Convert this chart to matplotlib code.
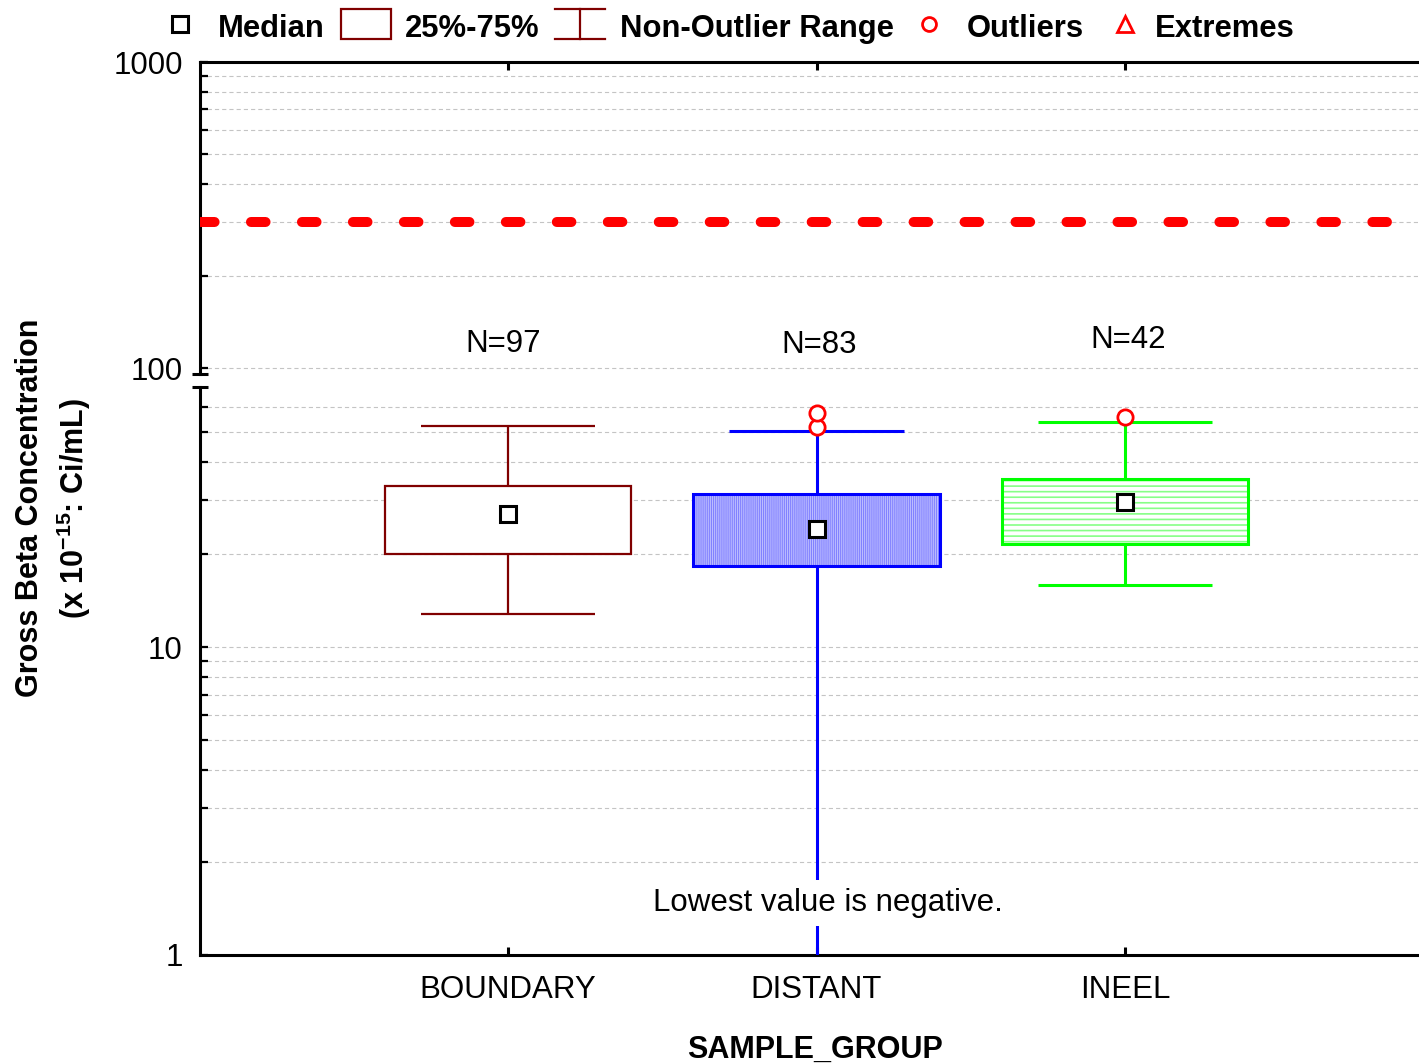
import matplotlib
matplotlib.use("Agg")
import matplotlib.pyplot as plt
from matplotlib import font_manager
from matplotlib.patches import Rectangle
from matplotlib.lines import Line2D
from matplotlib.ticker import FixedLocator, FixedFormatter, NullFormatter, LogLocator

# ---- data -------------------------------------------------------------
groups = ["BOUNDARY", "DISTANT", "INEEL"]
counts = [97, 83, 42]
q1 = [20.0, 18.3, 21.6]
median = [27.0, 24.2, 29.6]
q3 = [33.3, 31.4, 35.1]
whisker_low = [12.8, -1.0, 15.9]      # DISTANT minimum is below zero
whisker_high = [52.2, 50.3, 53.8]
outliers = [[], [51.8, 57.5], [55.8]]
limit_value = 300.0

upper_ticks = [100, 1000]
lower_ticks = [1, 10]

# ---- styles -----------------------------------------------------------
edge_colors = ["#800000", "#0000ff", "#00ff00"]
fill_colors = ["white", "#bcbcff", "white"]
hatch_colors = [None, "#8080ff", "#86ff86"]
hatches = [None, "|" * 8, "---"]
edge_widths = [1.6, 2.2, 2.2]

plt.rcParams["font.family"] = ["Liberation Sans", "DejaVu Sans"]
plt.rcParams["mathtext.default"] = "regular"
plt.rcParams["lines.scale_dashes"] = False

names = {f.name for f in font_manager.fontManager.ttflist}
if "Liberation Sans Narrow" in names:
    legend_font = dict(family=["Liberation Sans Narrow", "Liberation Sans"], fontsize=26.5)
else:
    legend_font = dict(family=["Liberation Sans", "DejaVu Sans"], fontsize=22.3)

label_size = 22.5

W, H = 1419, 1064
fig = plt.figure(figsize=(W / 100, H / 100), dpi=100)

left_px, axes_w_px = 199.5, 1234.0
ax_up = fig.add_axes([left_px / W, 1 - 374 / H, axes_w_px / W, (374 - 62) / H])
ax_lo = fig.add_axes([left_px / W, 1 - 955 / H, axes_w_px / W, (955 - 387) / H])

positions = list(range(1, len(groups) + 1))
grid_kw = dict(color="#c4c4c4", linewidth=0.8, linestyle=(0, (3.0, 2.2)))

for ax in (ax_up, ax_lo):
    ax.set_yscale("log")
    ax.set_xlim(0, 4)
    ax.set_axisbelow(True)
    ax.yaxis.set_minor_locator(LogLocator(base=10, subs=range(2, 10)))
    ax.yaxis.set_minor_formatter(NullFormatter())
    ax.grid(True, which="both", axis="y", **grid_kw)
    ax.spines["right"].set_visible(False)
    for s in ax.spines.values():
        s.set_linewidth(2.2)
    ax.tick_params(axis="y", which="both", direction="in", length=5.8, width=1.6,
                   labelsize=label_size, pad=12)
    ax.tick_params(axis="x", which="major", direction="in", length=6, width=2.2)
    ax.xaxis.set_major_locator(FixedLocator(positions))

ax_up.set_ylim(95.6, 1000)
ax_lo.set_ylim(1, 69.85)
ax_up.yaxis.set_major_locator(FixedLocator(upper_ticks))
ax_up.yaxis.set_major_formatter(FixedFormatter([str(v) for v in upper_ticks]))
ax_lo.yaxis.set_major_locator(FixedLocator(lower_ticks))
ax_lo.yaxis.set_major_formatter(FixedFormatter([str(v) for v in lower_ticks]))

ax_up.spines["bottom"].set_visible(False)
ax_lo.spines["top"].set_visible(False)
ax_up.tick_params(axis="x", bottom=False, top=True, labelbottom=False)
ax_lo.tick_params(axis="x", bottom=True, top=False, labelsize=label_size, pad=14.5)
ax_lo.set_xticklabels(groups)

# scale-break caps on the left spine
for ax, yb in ((ax_up, 0.0), (ax_lo, 1.0)):
    ax.plot([-0.006, 0.0065], [yb, yb], transform=ax.transAxes, color="black",
            lw=2.2, clip_on=False, solid_capstyle="butt")

# reference limit line
ax_up.axhline(limit_value, color="#ff0000", lw=7.2, linestyle=(0, (10.5, 26.2)),
              dash_capstyle="round", zorder=3)

# ---- boxes ------------------------------------------------------------
box_w, cap_w = 0.8, 0.565
ymin_lo = ax_lo.get_ylim()[0]
for i, x in enumerate(positions):
    ec, lw = edge_colors[i], edge_widths[i]
    if hatches[i]:
        fill = ax_lo.bar(x, q3[i] - q1[i], bottom=q1[i], width=box_w,
                         color=fill_colors[i], edgecolor=hatch_colors[i],
                         linewidth=0, hatch=hatches[i], zorder=2)[0]
        if hasattr(fill, "set_hatch_linewidth"):
            fill.set_hatch_linewidth(0.75 if i == 1 else 1.2)
    else:
        ax_lo.bar(x, q3[i] - q1[i], bottom=q1[i], width=box_w,
                  color=fill_colors[i], linewidth=0, zorder=2)
    ax_lo.bar(x, q3[i] - q1[i], bottom=q1[i], width=box_w, fill=False,
              edgecolor=ec, linewidth=lw, zorder=4)

    # whiskers and caps
    ax_lo.vlines(x, q3[i], whisker_high[i], color=ec, lw=lw, zorder=3)
    ax_lo.hlines(whisker_high[i], x - cap_w / 2, x + cap_w / 2, color=ec, lw=lw, zorder=3)
    lo = whisker_low[i] if whisker_low[i] > 0 else ymin_lo * 0.5
    ax_lo.vlines(x, lo, q1[i], color=ec, lw=lw, zorder=3)
    if whisker_low[i] > 0:
        ax_lo.hlines(whisker_low[i], x - cap_w / 2, x + cap_w / 2, color=ec, lw=lw, zorder=3)

    # median
    ax_lo.plot(x, median[i], marker="s", ms=12.2, mfc="white", mec="black",
               mew=2.2, zorder=6)
    # outliers
    if outliers[i]:
        ax_lo.plot([x] * len(outliers[i]), outliers[i], ls="none", marker="o",
                   ms=11, mfc="white", mec="#ff0000", mew=2.0, zorder=6, clip_on=False)

# sample counts
n_pos = [(0.985, 119.8), (2.007, 118.9), (3.01, 123.4)]
for (nx, ny), n in zip(n_pos, counts):
    ax_up.text(nx, ny, f"N={n}", ha="center", va="center", fontsize=label_size)

ax_lo.text(2.036, 1.475, "Lowest value is negative.", ha="center", va="center",
           fontsize=label_size, zorder=7,
           bbox=dict(facecolor="white", edgecolor="none", pad=6))

# axis titles
fig.text(815 / W, 1 - 1050 / H, "SAMPLE_GROUP", ha="center", va="center",
         fontsize=22, fontweight="bold")
fig.text(30 / W, 1 - 508 / H, "Gross Beta Concentration", rotation=90,
         ha="center", va="center", fontsize=22, fontweight="bold")
fig.text(74 / W, 1 - 509 / H, "(x 10$^{-15}$: Ci/mL)", rotation=90,
         ha="center", va="center", fontsize=22, fontweight="bold")

# ---- legend strip -----------------------------------------------------
lax = fig.add_axes([0, 0, 1, 1], zorder=10)
lax.set_xlim(0, W)
lax.set_ylim(H, 0)
lax.axis("off")
lax.patch.set_alpha(0)

lax.plot(180, 24, marker="s", ms=11, mfc="white", mec="black", mew=2.2)
lax.add_patch(Rectangle((341, 9), 50, 30, fill=False, edgecolor="#800000", lw=1.6))
lax.add_line(Line2D([555, 605], [9, 9], color="#800000", lw=1.6))
lax.add_line(Line2D([555, 605], [39, 39], color="#800000", lw=1.6))
lax.add_line(Line2D([580, 580], [9, 39], color="#800000", lw=1.6))
lax.plot(929, 24, marker="o", ms=10, mfc="white", mec="#ff0000", mew=2.0)
lax.plot(1125, 24, marker="^", ms=11, mfc="white", mec="#ff0000", mew=2.0)

legend_labels = [("Median", 218), ("25%-75%", 405), ("Non-Outlier Range", 620),
                 ("Outliers", 967), ("Extremes", 1155)]
for label, lx in legend_labels:
    lax.text(lx, 37, label, ha="left", va="baseline", fontweight="bold", **legend_font)

fig.savefig("out.png", dpi=100)
